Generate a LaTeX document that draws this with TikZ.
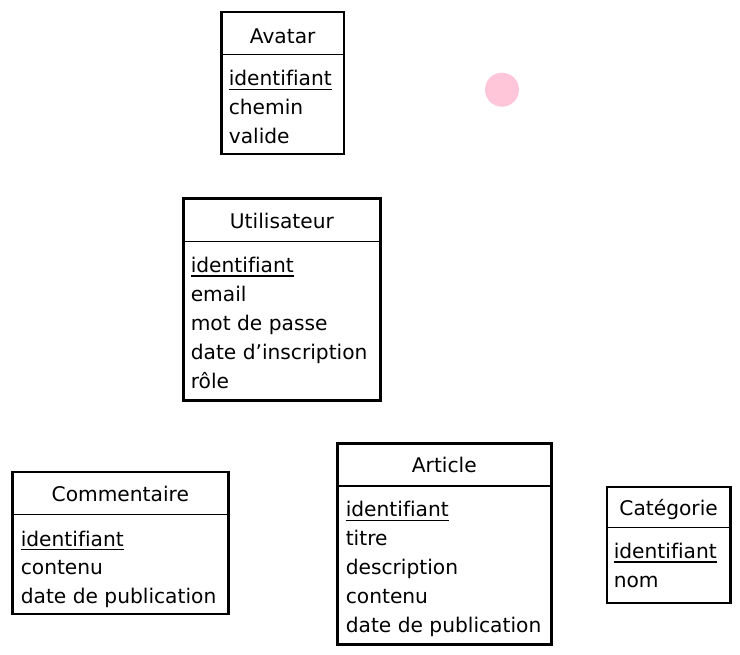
\documentclass[tikz,border=0pt]{standalone}
\usepackage{fontspec}
\setmainfont{DejaVu Sans}[Ligatures=NoCommon]
\definecolor{dotpink}{HTML}{FFC6D9}
\begin{document}
\begin{tikzpicture}[x=1pt,y=-1pt,
  entity/.style={draw, line width=2.9pt, inner sep=0pt, outer sep=0pt},
  sepline/.style={line width=1.1pt},
  uline/.style={line width=1.2pt},
  etitle/.style={anchor=base, inner sep=0pt, font=\fontsize{20.2}{24}\selectfont},
  eattr/.style={anchor=base west, inner sep=0pt, font=\fontsize{20.2}{24}\selectfont}]
\useasboundingbox (0,0) rectangle (740,655);

% Avatar
\node[entity, minimum width=122.7pt, minimum height=142pt] (avatar) at (282.65,83) {};
\draw[sepline] (avatar.west |- 0,54.3) -- (avatar.east |- 0,54.3);
\node[etitle] (avatar-t) at (282.65,43.3) {Avatar};
\node[eattr] (avatar-0) at (228.6,86) {identifiant};
\draw[uline] ([yshift=-3pt]avatar-0.south west) -- ([yshift=-3pt]avatar-0.south east);
\foreach \txt [count=\i] in {chemin, valide}
  \node[eattr] (avatar-\i) at (228.6,{86+28.9*\i}) {\txt};

% Pink dot
\node[circle, fill=dotpink, inner sep=0pt, minimum size=34pt] (dot) at (502,89.7) {};

% Utilisateur
\node[entity, minimum width=197.2pt, minimum height=202pt] (user) at (281.9,299.5) {};
\draw[sepline] (user.west |- 0,241.7) -- (user.east |- 0,241.7);
\node[etitle] (user-t) at (281.9,228.3) {Utilisateur};
\node[eattr] (user-0) at (190.6,272.5) {identifiant};
\draw[uline] ([yshift=-3pt]user-0.south west) -- ([yshift=-3pt]user-0.south east);
\foreach \txt [count=\i] in {email, mot de passe, date d’inscription, rôle}
  \node[eattr] (user-\i) at (190.6,{272.5+28.9*\i}) {\txt};

% Commentaire
\node[entity, minimum width=216pt, minimum height=142pt] (comment) at (120.3,543) {};
\draw[sepline] (comment.west |- 0,514.3) -- (comment.east |- 0,514.3);
\node[etitle] (comment-t) at (120.3,501.5) {Commentaire};
\node[eattr] (comment-0) at (20.6,546) {identifiant};
\draw[uline] ([yshift=-3pt]comment-0.south west) -- ([yshift=-3pt]comment-0.south east);
\foreach \txt [count=\i] in {contenu, date de publication}
  \node[eattr] (comment-\i) at (20.6,{546+28.9*\i}) {\txt};

% Article
\node[entity, minimum width=214pt, minimum height=200.6pt] (article) at (444.3,544) {};
\draw[sepline] (article.west |- 0,486) -- (article.east |- 0,486);
\node[etitle] (article-t) at (444.3,472.3) {Article};
\node[eattr] (article-0) at (345.6,516.8) {identifiant};
\draw[uline] ([yshift=-3pt]article-0.south west) -- ([yshift=-3pt]article-0.south east);
\foreach \txt [count=\i] in {titre, description, contenu, date de publication}
  \node[eattr] (article-\i) at (345.6,{516.8+28.9*\i}) {\txt};

% Catégorie
\node[entity, minimum width=123.3pt, minimum height=116pt] (cat) at (668.65,545) {};
\draw[sepline] (cat.west |- 0,527.7) -- (cat.east |- 0,527.7);
\node[etitle] (cat-t) at (668.65,515.3) {Catégorie};
\node[eattr] (cat-0) at (613.6,558.5) {identifiant};
\draw[uline] ([yshift=-3pt]cat-0.south west) -- ([yshift=-3pt]cat-0.south east);
\foreach \txt [count=\i] in {nom}
  \node[eattr] (cat-\i) at (613.6,{558.5+28.9*\i}) {\txt};
\end{tikzpicture}
\end{document}
